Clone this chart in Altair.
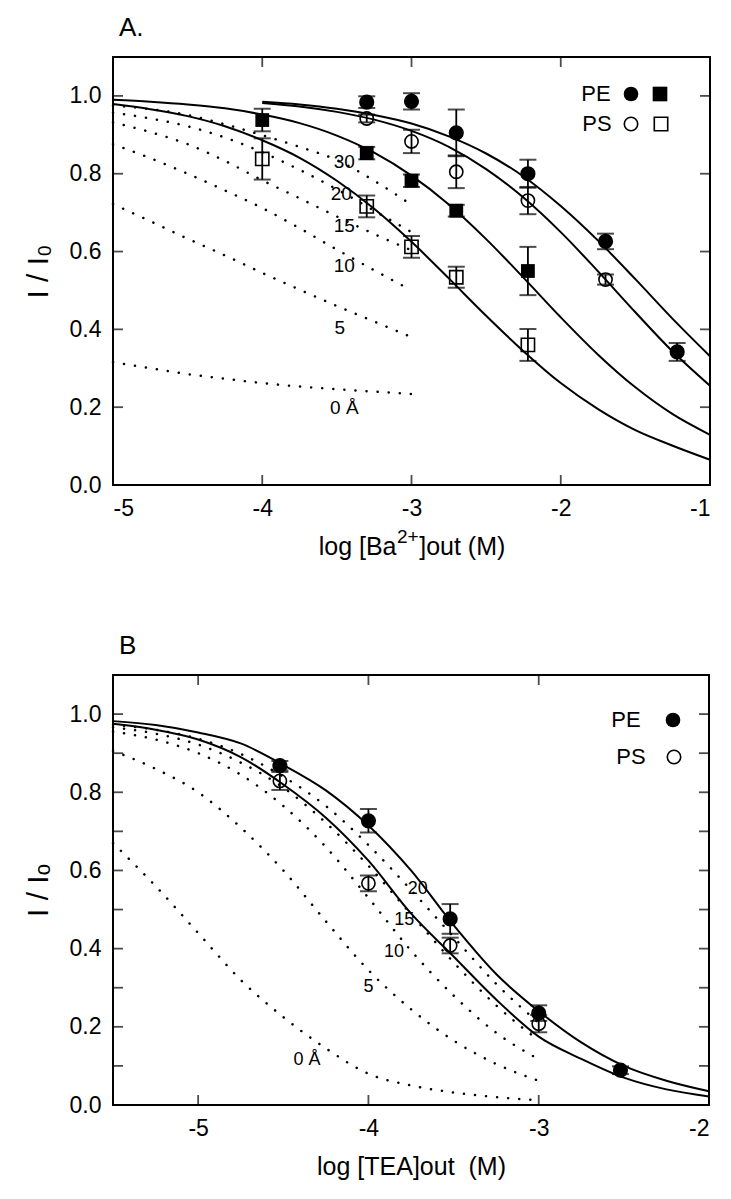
import altair as alt
import pandas as pd

FONT = "Liberation Sans, Arial, sans-serif"

# ======================= Panel A : Ba2+ =======================
A_X_TICKS = [-5, -4, -3, -2, -1]
A_X_INNER = [-4, -3, -2]
A_Y_TICKS = [0.0, 0.2, 0.4, 0.6, 0.8, 1.0]
A_Y_INNER = [0.2, 0.4, 0.6, 0.8, 1.0]

A_pe_circ_x = [-3.30, -3.00, -2.70, -2.22, -1.70, -1.22]
A_pe_circ_y = [0.984, 0.986, 0.905, 0.800, 0.626, 0.342]
A_pe_circ_e = [0.015, 0.021, 0.060, 0.036, 0.020, 0.023]

A_ps_circ_x = [-3.30, -3.00, -2.70, -2.22, -1.70]
A_ps_circ_y = [0.942, 0.883, 0.805, 0.731, 0.528]
A_ps_circ_e = [0.010, 0.030, 0.042, 0.035, 0.013]

A_pe_sq_x = [-4.00, -3.30, -3.00, -2.70, -2.22]
A_pe_sq_y = [0.938, 0.853, 0.782, 0.705, 0.550]
A_pe_sq_e = [0.029, 0.016, 0.016, 0.015, 0.062]

A_ps_sq_x = [-4.00, -3.30, -3.00, -2.70, -2.22]
A_ps_sq_y = [0.838, 0.716, 0.612, 0.534, 0.360]
A_ps_sq_e = [0.053, 0.028, 0.028, 0.027, 0.041]

# fitted curves (solid)
A_fit_x_short = [-4.0, -3.75, -3.5, -3.25, -3.0, -2.75, -2.5, -2.25, -2.0, -1.75, -1.5, -1.25, -1.0]
A_fit_pe_circ = [0.985, 0.978, 0.967, 0.951, 0.929, 0.896, 0.852, 0.793, 0.717, 0.628, 0.529, 0.427, 0.331]
A_fit_ps_circ = [0.982, 0.973, 0.959, 0.939, 0.910, 0.869, 0.812, 0.739, 0.650, 0.549, 0.444, 0.343, 0.255]
A_fit_x_long = [-5.0, -4.75, -4.5, -4.25, -4.0, -3.75, -3.5, -3.25, -3.0,
                -2.75, -2.5, -2.25, -2.0, -1.75, -1.5, -1.25, -1.0]
A_fit_pe_sq = [0.990, 0.985, 0.978, 0.968, 0.952, 0.930, 0.898, 0.854, 0.795,
               0.721, 0.632, 0.533, 0.431, 0.335, 0.251, 0.182, 0.129]
A_fit_ps_sq = [0.979, 0.966, 0.948, 0.922, 0.886, 0.841, 0.782, 0.710, 0.625,
               0.531, 0.435, 0.344, 0.262, 0.195, 0.141, 0.101, 0.065]

# predicted curves (dotted) for distances 30, 20, 15, 10, 5, 0 A
A_dot_x = [-5.0, -4.75, -4.5, -4.25, -4.0, -3.75, -3.5, -3.25, -3.0]
A_dot_30 = [0.975, 0.966, 0.951, 0.927, 0.899, 0.869, 0.835, 0.782, 0.720]
A_dot_20 = [0.957, 0.942, 0.922, 0.893, 0.855, 0.810, 0.760, 0.705, 0.650]
A_dot_15 = [0.932, 0.907, 0.876, 0.833, 0.783, 0.737, 0.690, 0.645, 0.603]
A_dot_10 = [0.876, 0.840, 0.800, 0.757, 0.712, 0.660, 0.605, 0.552, 0.500]
A_dot_5 = [0.722, 0.678, 0.633, 0.590, 0.545, 0.502, 0.460, 0.420, 0.380]
A_dot_0 = [0.316, 0.300, 0.285, 0.273, 0.262, 0.253, 0.246, 0.240, 0.234]

A_lab_text = ["30", "20", "15", "10", "5", "0 Å"]
A_lab_x = [-3.45, -3.47, -3.45, -3.45, -3.48, -3.45]
A_lab_y = [0.830, 0.748, 0.665, 0.564, 0.404, 0.197]

# x-axis title of panel A, in three pieces (base, superscript, base)
A_XTITLE_PARTS = ["log [Ba", "2+", "]out (M)"]

# ======================= Panel B : TEA =======================
B_X_TICKS = [-5, -4, -3, -2]
B_X_INNER = [-5, -4, -3]
B_Y_TICKS = [0.0, 0.2, 0.4, 0.6, 0.8, 1.0]
B_Y_INNER = [0.1, 0.2, 0.3, 0.4, 0.5, 0.6, 0.7, 0.8, 0.9, 1.0]

B_pe_x = [-4.52, -4.00, -3.52, -3.00, -2.52]
B_pe_y = [0.868, 0.727, 0.476, 0.235, 0.089]
B_pe_e = [0.012, 0.030, 0.038, 0.020, 0.010]

B_ps_x = [-4.52, -4.00, -3.52, -3.00]
B_ps_y = [0.829, 0.567, 0.408, 0.208]
B_ps_e = [0.023, 0.020, 0.020, 0.022]

B_fit_x = [-5.5, -5.25, -5.0, -4.75, -4.5, -4.25, -4.0, -3.75, -3.5, -3.25, -3.0, -2.75, -2.5, -2.25, -2.0]
B_fit_pe = [0.982, 0.972, 0.953, 0.925, 0.870, 0.805, 0.715, 0.600, 0.460, 0.335, 0.240, 0.160, 0.100, 0.062, 0.035]
B_fit_ps = [0.975, 0.960, 0.935, 0.890, 0.820, 0.735, 0.625, 0.490, 0.380, 0.270, 0.175, 0.118, 0.070, 0.040, 0.022]

B_dot_x = [-5.5, -5.25, -5.0, -4.75, -4.5, -4.25, -4.0, -3.75, -3.5, -3.25, -3.0]
B_dot_20 = [0.972, 0.960, 0.937, 0.898, 0.840, 0.765, 0.665, 0.550, 0.430, 0.310, 0.210]
B_dot_15 = [0.966, 0.950, 0.922, 0.876, 0.812, 0.722, 0.612, 0.488, 0.365, 0.255, 0.165]
B_dot_10 = [0.955, 0.935, 0.900, 0.845, 0.765, 0.660, 0.530, 0.395, 0.280, 0.185, 0.117]
B_dot_5 = [0.906, 0.860, 0.800, 0.710, 0.600, 0.470, 0.345, 0.245, 0.165, 0.105, 0.062]
B_dot_0 = [0.670, 0.560, 0.440, 0.320, 0.225, 0.145, 0.080, 0.050, 0.032, 0.020, 0.012]

B_lab_text = ["20", "15", "10", "5", "0 Å"]
B_lab_x = [-3.71, -3.79, -3.85, -4.00, -4.36]
B_lab_y = [0.553, 0.472, 0.391, 0.302, 0.115]


# ======================= helpers =======================
def long_df(xs, series):
    rows = []
    for name, ys in series.items():
        for x, y in zip(xs, ys):
            rows.append({"x": x, "y": y, "s": name})
    return pd.DataFrame(rows)


def err_df(xs, ys, es):
    return pd.DataFrame({"x": xs, "y": ys, "lo": [y - e for y, e in zip(ys, es)],
                         "hi": [y + e for y, e in zip(ys, es)]})


def build_panel(letter, W, H, xdom, xticks, xinner, yinner, ytitle, xtitle,
                fits, dots, points, labels, legend, lab_size, xtitle_parts=None):
    xs = alt.Scale(domain=xdom, nice=False, zero=False)
    ys = alt.Scale(domain=[0, 1.1], nice=False, zero=False)
    xaxis = alt.Axis(
        values=xticks, labelExpr="datum.value + ''", ticks=False, tickSize=0,
        domain=False, grid=False, labelFont=FONT, labelFontSize=23,
        labelColor="black", labelPadding=12, title=xtitle if xtitle else "",
        titleFont=FONT, titleFontSize=25, titleFontWeight="normal",
        titleColor="black", titlePadding=14)
    yaxis = alt.Axis(
        values=[0.0, 0.2, 0.4, 0.6, 0.8, 1.0], format=".1f", ticks=False,
        tickSize=0, domain=False, grid=False, labelFont=FONT, labelFontSize=23,
        labelColor="black", labelPadding=12, title=ytitle, titleFont=FONT,
        titleFontSize=30, titleFontWeight="normal", titleColor="black",
        titlePadding=16)

    def X(field="x"):
        return alt.X(f"{field}:Q", scale=xs, axis=xaxis)

    def Y(field="y"):
        return alt.Y(f"{field}:Q", scale=ys, axis=yaxis)

    layers = []
    # solid fitted curves
    for xsv, ysv in fits:
        d = pd.DataFrame({"x": xsv, "y": ysv})
        layers.append(alt.Chart(d).mark_line(color="black", strokeWidth=2,
                                             interpolate="monotone")
                      .encode(x=X(), y=Y()))
    # dotted predicted curves
    ddf = long_df(dots[0], dots[1])
    layers.append(alt.Chart(ddf).mark_line(color="black", strokeWidth=2.5,
                                           strokeDash=[0.1, 11], strokeCap="round",
                                           interpolate="monotone")
                  .encode(x=X(), y=Y(), detail="s:N"))
    # points with error bars
    for (pxs, pys, pes, shape, filled, size) in points:
        e = err_df(pxs, pys, pes)
        layers.append(alt.Chart(e).mark_rule(color="black", strokeWidth=1.8)
                      .encode(x=X(), y=Y("lo"), y2="hi"))
        for f in ("lo", "hi"):
            layers.append(alt.Chart(e).mark_tick(orient="horizontal", size=17,
                                                 thickness=2, color="black")
                          .encode(x=X(), y=Y(f)))
        if filled:
            mk = alt.Chart(e).mark_point(shape=shape, filled=True, size=size,
                                         color="black", opacity=1)
        else:
            mk = alt.Chart(e).mark_point(shape=shape, filled=False, size=size,
                                         color="black", strokeWidth=1.6, opacity=1)
        layers.append(mk.encode(x=X(), y=Y()))
    # curve labels
    ldf = pd.DataFrame({"x": labels[1], "y": labels[2], "t": labels[0]})
    layers.append(alt.Chart(ldf).mark_text(font=FONT, fontSize=lab_size, color="black")
                  .encode(x=X(), y=Y(), text="t:N"))
    # inward frame ticks
    ty = pd.DataFrame({"v": yinner})
    tx = pd.DataFrame({"v": xinner})
    layers.append(alt.Chart(ty).mark_tick(orient="horizontal", size=10, thickness=1.8,
                                          color="black")
                  .encode(y=Y("v"), x=alt.value(5)))
    layers.append(alt.Chart(ty).mark_tick(orient="horizontal", size=10, thickness=1.8,
                                          color="black")
                  .encode(y=Y("v"), x=alt.value(W - 5)))
    layers.append(alt.Chart(tx).mark_tick(orient="vertical", size=10, thickness=1.8,
                                          color="black")
                  .encode(x=X("v"), y=alt.value(5)))
    layers.append(alt.Chart(tx).mark_tick(orient="vertical", size=10, thickness=1.8,
                                          color="black")
                  .encode(x=X("v"), y=alt.value(H - 5)))
    # legend (placed in pixels inside the plot area)
    for (txt, tx_, ty_, syms) in legend:
        layers.append(alt.Chart(pd.DataFrame({"t": [txt]})).mark_text(
            font=FONT, fontSize=22, color="black", align="center", baseline="middle")
            .encode(x=alt.value(tx_), y=alt.value(ty_), text="t:N"))
        for (sx, shape, filled) in syms:
            if filled:
                m = alt.Chart(pd.DataFrame({"t": [txt]})).mark_point(
                    shape=shape, filled=True, size=215, color="black", opacity=1)
            else:
                m = alt.Chart(pd.DataFrame({"t": [txt]})).mark_point(
                    shape=shape, filled=False, size=180, color="black", strokeWidth=1.6,
                    opacity=1)
            layers.append(m.encode(x=alt.value(sx), y=alt.value(ty_)))
    # composed axis title with a real superscript
    if xtitle_parts:
        base, sup, rest = xtitle_parts
        fs, fss = 25, 19
        w_base = fs * 3.113
        w_sup = fss * 1.14
        w_rest = fs * 3.445
        x0 = W / 2 - (w_base + w_sup + w_rest) / 2
        ymid = H + 62
        for txt, xx, yy, size in [(base, x0, ymid, fs),
                                  (sup, x0 + w_base + 0.5, ymid - 10, fss),
                                  (rest, x0 + w_base + w_sup + 1, ymid, fs)]:
            layers.append(alt.Chart(pd.DataFrame({"t": [txt]})).mark_text(
                font=FONT, fontSize=size, color="black", align="left",
                baseline="middle").encode(x=alt.value(xx), y=alt.value(yy), text="t:N"))

    return alt.layer(*layers).properties(
        width=W, height=H,
        title=alt.TitleParams(text=letter, anchor="start", frame="group", font=FONT,
                              fontSize=26, fontWeight="normal", color="black",
                              offset=16, dx=6),
    )


panelA = build_panel(
    "A.", 597, 428, [-5, -1], A_X_TICKS, A_X_INNER, A_Y_INNER,
    "I / I₀", None,
    fits=[(A_fit_x_short, A_fit_pe_circ), (A_fit_x_short, A_fit_ps_circ),
          (A_fit_x_long, A_fit_pe_sq), (A_fit_x_long, A_fit_ps_sq)],
    dots=(A_dot_x, {"30": A_dot_30, "20": A_dot_20, "15": A_dot_15,
                    "10": A_dot_10, "5": A_dot_5, "0": A_dot_0}),
    points=[(A_pe_circ_x, A_pe_circ_y, A_pe_circ_e, "circle", True, 230),
            (A_ps_circ_x, A_ps_circ_y, A_ps_circ_e, "circle", False, 175),
            (A_pe_sq_x, A_pe_sq_y, A_pe_sq_e, "square", True, 190),
            (A_ps_sq_x, A_ps_sq_y, A_ps_sq_e, "square", False, 175)],
    labels=(A_lab_text, A_lab_x, A_lab_y),
    legend=[("PE", 483, 37, [(518, "circle", True), (547, "square", True)]),
            ("PS", 484, 67, [(518, "circle", False), (548, "square", False)])],
    lab_size=19,
    xtitle_parts=A_XTITLE_PARTS,
)

panelB = build_panel(
    "B", 596, 430, [-5.5, -2], B_X_TICKS, B_X_INNER, B_Y_INNER,
    "I / Iₒ", "log [TEA]out\u00a0\u00a0(M)",
    fits=[(B_fit_x, B_fit_pe), (B_fit_x, B_fit_ps)],
    dots=(B_dot_x, {"20": B_dot_20, "15": B_dot_15, "10": B_dot_10,
                    "5": B_dot_5, "0": B_dot_0}),
    points=[(B_pe_x, B_pe_y, B_pe_e, "circle", True, 230),
            (B_ps_x, B_ps_y, B_ps_e, "circle", False, 175)],
    labels=(B_lab_text, B_lab_x, B_lab_y),
    legend=[("PE", 513, 45, [(560, "circle", True)]),
            ("PS", 518, 82, [(561, "circle", False)])],
    lab_size=18,
)

chart = alt.vconcat(panelA, panelB, spacing=71).properties(
    padding={"left": 14, "top": 6, "right": 0, "bottom": 0},
    background="white",
).configure_view(stroke="black", strokeWidth=2)

chart.save("out.html", embed_options={"renderer": "svg", "actions": False})
